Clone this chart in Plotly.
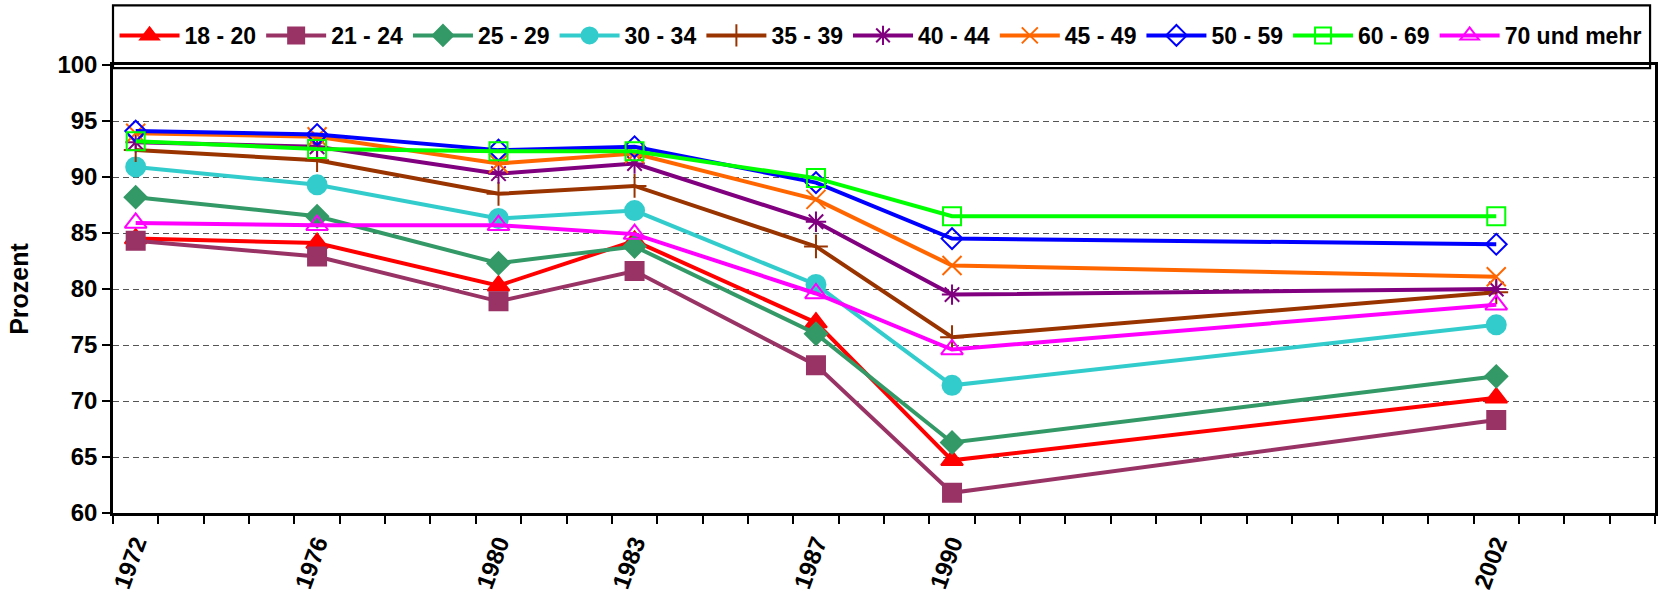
import plotly.graph_objects as go

# Survey years (x positions on a linear year axis)
years = [1972, 1976, 1980, 1983, 1987, 1990, 2002]

# Age groups
groups = ["18 - 20", "21 - 24", "25 - 29", "30 - 34", "35 - 39",
          "40 - 44", "45 - 49", "50 - 59", "60 - 69", "70 und mehr"]

# Values in percent, one list per age group
v_18_20 = [84.5, 84.1, 80.3, 84.3, 77.0, 64.7, 70.3]
v_21_24 = [84.3, 82.9, 78.9, 81.6, 73.2, 61.8, 68.3]
v_25_29 = [88.2, 86.5, 82.3, 83.8, 76.0, 66.3, 72.2]
v_30_34 = [90.9, 89.3, 86.3, 87.0, 80.4, 71.4, 76.8]
v_35_39 = [92.4, 91.5, 88.5, 89.2, 83.8, 75.7, 79.7]
v_40_44 = [93.1, 92.7, 90.3, 91.2, 86.0, 79.5, 80.0]
v_45_49 = [93.9, 93.6, 91.2, 92.1, 88.0, 82.1, 81.1]
v_50_59 = [94.1, 93.8, 92.4, 92.7, 89.5, 84.5, 84.0]
v_60_69 = [93.2, 92.5, 92.3, 92.3, 89.9, 86.5, 86.5]
v_70_plus = [85.9, 85.7, 85.7, 84.9, 79.6, 74.6, 78.6]

series = [v_18_20, v_21_24, v_25_29, v_30_34, v_35_39,
          v_40_44, v_45_49, v_50_59, v_60_69, v_70_plus]

# Per-series styling: colour, marker symbol, marker size
styles = [
    ("#FF0000", "triangle-up", 19),
    ("#993366", "square", 18),
    ("#339966", "diamond", 17),
    ("#33CCCC", "circle", 19),
    ("#993300", "cross-thin-open", 17),
    ("#800080", "asterisk-open", 17),
    ("#FF6600", "x-thin-open", 19),
    ("#0000FF", "diamond-open", 16),
    ("#00FF00", "square-open", 18),
    ("#FF00FF", "triangle-up-open", 19),
]

FONT = "Liberation Sans, Arial, sans-serif"

fig = go.Figure()
for name, vals, (col, sym, sz) in zip(groups, series, styles):
    fig.add_trace(go.Scatter(
        x=years, y=vals, name=name, mode="lines+markers",
        line=dict(color=col, width=4),
        marker=dict(symbol=sym, size=sz, color=col,
                    line=dict(color=col, width=2)),
    ))

W, H = 1662, 596
L, R, T, B = 113, 7, 65, 83

fig.update_layout(
    width=W, height=H,
    margin=dict(l=L, r=R, t=T, b=B, autoexpand=False),
    paper_bgcolor="white", plot_bgcolor="white",
    font=dict(family=FONT, size=23, color="black", weight="bold"),
    showlegend=True,
    legend=dict(
        orientation="h", x=0.001, xanchor="left",
        y=1.066, yanchor="middle",
        bgcolor="rgba(0,0,0,0)", borderwidth=0,
        font=dict(family=FONT, size=23, color="black", weight="bold"),
        itemwidth=60, itemsizing="trace", traceorder="normal",
    ),
    shapes=[dict(
        type="rect", xref="paper", yref="paper",
        x0=0.0, x1=0.9968, y0=0.993, y1=1.133,
        line=dict(color="black", width=2.2), fillcolor="white", layer="below",
    )],
)

fig.update_xaxes(
    range=[1971.5, 2005.5], automargin=False,
    tickmode="array", tickvals=years, ticktext=[str(y) for y in years],
    ticks="", tickangle=-70, ticklabelstandoff=4,
    tickfont=dict(family=FONT, size=24, color="black", weight="bold"),
    showgrid=False, zeroline=False,
    showline=True, linecolor="black", linewidth=2.5, mirror=True,
    minor=dict(tick0=1971.5, dtick=1, ticks="outside", ticklen=8,
               tickwidth=1.5, tickcolor="black", showgrid=False),
)

fig.update_yaxes(
    range=[60, 100], dtick=5, tick0=60, automargin=False,
    ticks="outside", ticklen=8, tickwidth=1.5, tickcolor="black",
    tickfont=dict(family=FONT, size=24, color="black", weight="bold"),
    showgrid=True, gridcolor="#555555", griddash="6px,4px", gridwidth=1,
    zeroline=False,
    showline=True, linecolor="black", linewidth=2.5, mirror=True,
    title=dict(text="Prozent", standoff=22,
               font=dict(family=FONT, size=25, color="black", weight="bold")),
)

fig.write_html("out.html")
